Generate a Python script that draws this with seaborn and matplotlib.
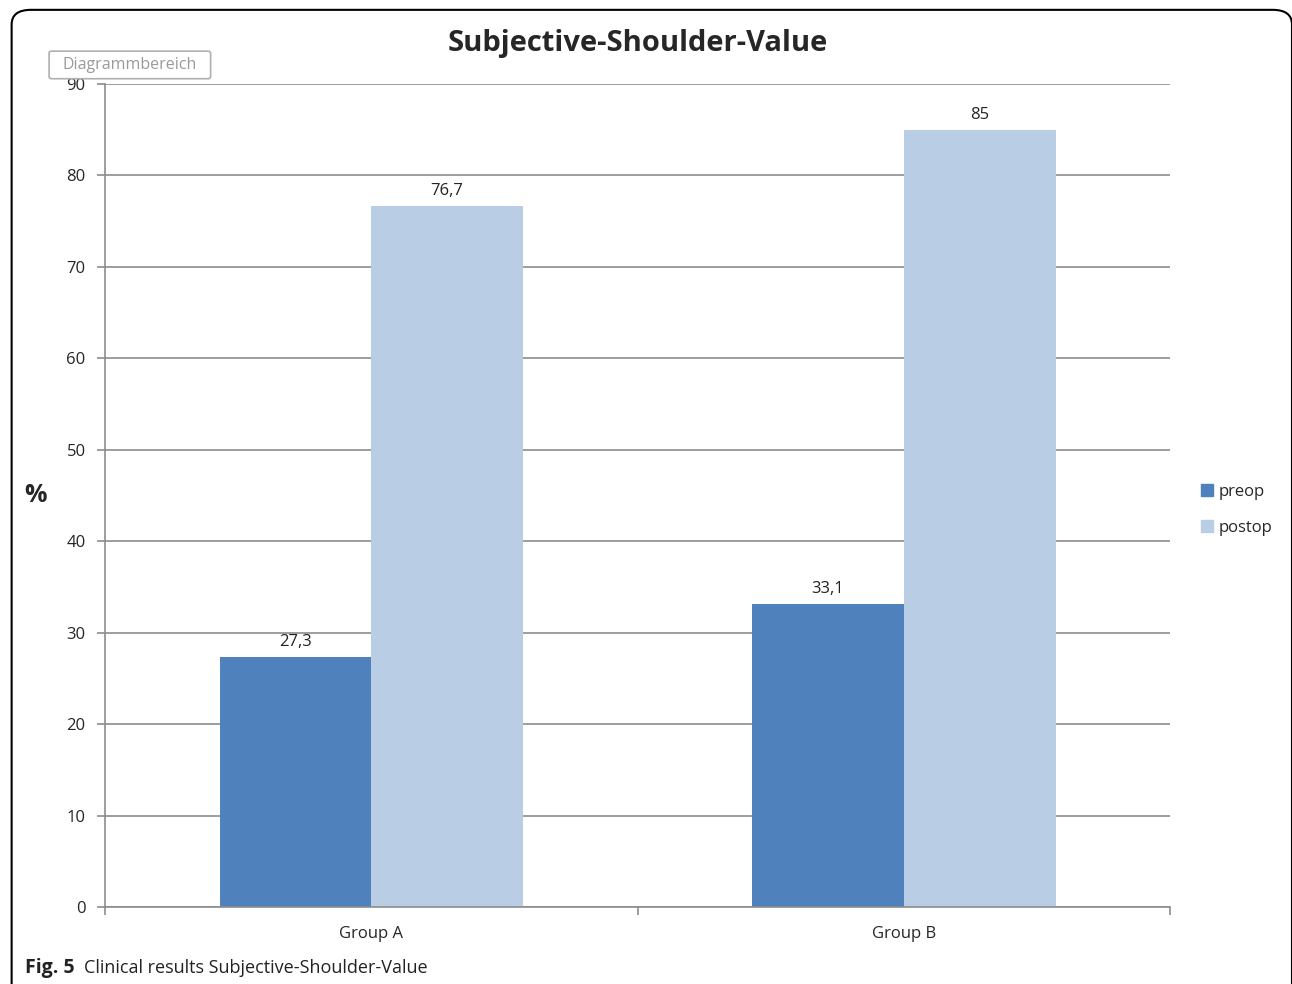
import pandas as pd
import matplotlib.pyplot as plt
import seaborn as sns
from matplotlib.patches import FancyBboxPatch

# data
groups = ["Group A", "Group B"]
phases = ["preop", "postop"]
preop = [27.3, 33.1]
postop = [76.7, 85]
bar_labels = {"preop": ["27,3", "33,1"], "postop": ["76,7", "85"]}

df = pd.DataFrame({
    "group": groups * 2,
    "phase": ["preop"] * 2 + ["postop"] * 2,
    "value": preop + postop,
})

sns.set_theme(style="white")
plt.rcParams['font.family'] = ['Open Sans', 'DejaVu Sans']

fig = plt.figure(figsize=(12.92, 9.84), dpi=100)
ax = fig.add_axes([0.0813, 0.0783, 0.8243, 0.8364])

colors = {"preop": "#4f81bd", "postop": "#b9cde5"}
sns.barplot(data=df, x="group", y="value", hue="phase", hue_order=phases,
            palette=colors, width=0.57, saturation=1, linewidth=0, ax=ax, legend=False)

# value labels above bars
for cont, ph in zip(ax.containers, phases):
    ax.bar_label(cont, labels=bar_labels[ph], padding=5, fontsize=12, color="#222222")

ax.set_ylim(0, 90)
ax.set_xlim(-0.5, 1.5)
ax.set_yticks(range(0, 91, 10))
ax.yaxis.grid(True, color="#8c8c8c", linewidth=1.2)
ax.set_axisbelow(True)
for s in ["top", "right"]:
    ax.spines[s].set_visible(False)
for s in ["left", "bottom"]:
    ax.spines[s].set_color("#8c8c8c")
    ax.spines[s].set_linewidth(1.2)

# category boundary ticks on x axis
ax.set_xticks([-0.5, 0.5, 1.5], minor=True)
ax.tick_params(axis="x", which="minor", length=6, color="#8c8c8c", width=1.2, bottom=True)
ax.tick_params(axis="x", which="major", length=0, labelsize=12, pad=14)
ax.tick_params(axis="y", length=6, color="#8c8c8c", width=1.2, left=True, labelsize=12, pad=8)
ax.set_xlabel("")
ax.set_ylabel("%", fontsize=18, fontweight="bold", rotation=0, labelpad=22, va="center")

ax.set_title("Subjective-Shoulder-Value", fontsize=21, fontweight="bold", pad=24)

# legend
handles = [plt.Rectangle((0, 0), 1, 1, color=colors[p]) for p in phases]
fig.legend(handles, phases, loc="center left", bbox_to_anchor=(0.918, 0.482),
           frameon=False, fontsize=12, handlelength=0.7, handleheight=0.7,
           handletextpad=0.35, labelspacing=1.2)

# "Diagrammbereich" tooltip box
tip = FancyBboxPatch((0.040, 0.922), 0.121, 0.024, boxstyle="round,pad=0.002",
                     transform=fig.transFigure, facecolor="white",
                     edgecolor="#b0b0b0", linewidth=1.2, zorder=10)
fig.patches.append(tip)
fig.text(0.1005, 0.934, "Diagrammbereich", fontsize=11.5, color="#9a9a9a",
         ha="center", va="center", zorder=11)

# outer rounded frame
frame = FancyBboxPatch((0.009, -0.05), 0.991, 1.04, boxstyle="round,pad=0,rounding_size=0.015",
                       transform=fig.transFigure, facecolor="none",
                       edgecolor="black", linewidth=1.5, zorder=0)
fig.patches.append(frame)

# caption
fig.text(0.019, 0.016, "Fig. 5", fontsize=14, fontweight="bold", color="#222222", va="center")
fig.text(0.065, 0.016, "Clinical results Subjective-Shoulder-Value", fontsize=13,
         color="#222222", va="center")

fig.savefig("out.png", dpi=100)
